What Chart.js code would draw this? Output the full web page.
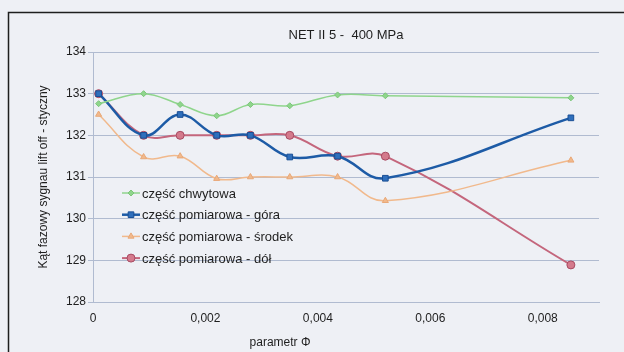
<!DOCTYPE html>
<html>
<head>
<meta charset="utf-8">
<script src="https://cdn.jsdelivr.net/npm/chart.js@4/dist/chart.umd.min.js"></script>
<style>
  html, body { margin: 0; padding: 0; background: #eef0f5; }
  #c { display: block; }
</style>
</head>
<body>
<canvas id="c" width="624" height="352"></canvas>
<script>
// ---- data ----
const chartTitle = "NET II 5 -  400 MPa";
const xAxisTitle = "parametr \u03A6";
const yAxisTitle = "Kąt fazowy sygnau lift off - styczny";
const xValues = [0.0001, 0.0009, 0.00155, 0.0022, 0.0028, 0.0035, 0.00435, 0.0052, 0.0085];
const seriesNames = ["część chwytowa", "część pomiarowa - góra", "część pomiarowa - środek", "część pomiarowa - dół"];
const chwytowa = [132.76, 133.0, 132.74, 132.47, 132.74, 132.71, 132.97, 132.95, 132.9];
const gora     = [133.0, 132.0, 132.5, 132.0, 132.0, 131.48, 131.5, 130.97, 132.42];
const srodek   = [132.5, 131.48, 131.5, 130.96, 131.0, 131.0, 131.0, 130.43, 131.4];
const dol      = [133.0, 132.0, 132.0, 132.0, 132.0, 132.0, 131.5, 131.5, 128.89];
const yTicks = [128, 129, 130, 131, 132, 133, 134];
const xTicks = [0, 0.002, 0.004, 0.006, 0.008];

const FONT = "'Liberation Sans', Arial, sans-serif";
const pts = arr => arr.map((v, i) => ({ x: xValues[i], y: v }));

const styles = [
  { color: '#8fd58c', width: 1.5, point: 'rectRot', r: 3, fill: '#8fd58c', border: '#7cc67a' },
  { color: '#1d5ba6', width: 2.5, point: 'rect', r: 4, fill: '#2f6fbc', border: '#1a4f95' },
  { color: '#f1b98c', width: 1.5, point: 'triangle', r: 3.5, fill: '#f1b98c', border: '#e9a877' },
  { color: '#c4667c', width: 2, point: 'circle', r: 4, fill: '#d47a8c', border: '#a84a62' }
];
const seriesData = [chwytowa, gora, srodek, dol];

const datasets = seriesData.map((d, i) => ({
  label: seriesNames[i],
  data: pts(d),
  borderColor: styles[i].color,
  borderWidth: styles[i].width,
  pointStyle: styles[i].point,
  pointRadius: styles[i].r,
  pointBackgroundColor: styles[i].fill,
  pointBorderColor: styles[i].border,
  pointBorderWidth: 1,
  tension: 0.4,
  fill: false
}));

const decor = {
  id: 'decor',
  beforeDraw(chart) {
    const ctx = chart.ctx;
    ctx.save();
    ctx.fillStyle = '#eef0f5';
    ctx.fillRect(0, 0, chart.width, chart.height);
    ctx.strokeStyle = '#1e1e1e';
    ctx.lineWidth = 1.5;
    ctx.beginPath();
    ctx.moveTo(8.5, chart.height);
    ctx.lineTo(8.5, 12.5);
    ctx.lineTo(chart.width, 12.5);
    ctx.stroke();
    ctx.restore();
  },
  afterDraw(chart) {
    const ctx = chart.ctx;
    const ca = chart.chartArea;
    ctx.save();
    ctx.fillStyle = '#1e1e1e';
    ctx.textBaseline = 'middle';
    ctx.textAlign = 'center';
    ctx.font = '13px ' + FONT;
    ctx.fillText(chartTitle, (ca.left + ca.right) / 2, 35);
    ctx.font = '12px ' + FONT;
    ctx.fillText(xAxisTitle, 280, 343);
    // legend
    ctx.textAlign = 'left';
    ctx.font = '13px ' + FONT;
    chart.data.datasets.forEach((ds, i) => {
      const y = 193 + i * 21.7;
      ctx.strokeStyle = ds.borderColor;
      ctx.lineWidth = ds.borderWidth;
      ctx.beginPath();
      ctx.moveTo(122, y);
      ctx.lineTo(140, y);
      ctx.stroke();
      ctx.fillStyle = ds.pointBackgroundColor;
      ctx.strokeStyle = ds.pointBorderColor;
      ctx.lineWidth = 1;
      Chart.helpers.drawPoint(ctx, { pointStyle: ds.pointStyle, radius: ds.pointRadius, rotation: 0, borderWidth: 1 }, 131, y);
      ctx.fillStyle = '#1e1e1e';
      ctx.fillText(ds.label, 142, y + 1);
    });
    ctx.restore();
  }
};

new Chart(document.getElementById('c'), {
  type: 'line',
  data: { datasets },
  plugins: [decor],
  options: {
    responsive: false,
    animation: false,
    layout: { padding: { top: 52, right: 25, left: 0, bottom: 0 } },
    plugins: { legend: { display: false }, title: { display: false }, tooltip: { enabled: false } },
    scales: {
      x: {
        type: 'linear',
        min: 0, max: 0.009,
        afterFit(s) { s.height = 50; },
        afterBuildTicks(s) { s.ticks = xTicks.map(v => ({ value: v })); },
        ticks: {
          includeBounds: false,
          padding: 9,
          color: '#1e1e1e',
          font: { family: FONT, size: 12 },
          maxRotation: 0,
          callback: v => v === 0 ? '0' : v.toFixed(3).replace('.', ',')
        },
        grid: { display: true, drawOnChartArea: false, drawTicks: false, color: '#b0bbd0' },
        border: { display: true, color: '#b0bbd0' }
      },
      y: {
        min: 128, max: 134,
        afterFit(s) { s.width = 93; },
        afterBuildTicks(s) { s.ticks = yTicks.map(v => ({ value: v })); },
        ticks: {
          padding: 2,
          color: '#1e1e1e',
          font: { family: FONT, size: 12 },
          callback: v => String(v)
        },
        grid: { color: '#b0bbd0', tickLength: 5, lineWidth: 1 },
        border: { display: true, color: '#b0bbd0' },
        title: {
          display: true,
          text: yAxisTitle,
          color: '#1e1e1e',
          font: { family: FONT, size: 12 },
          padding: { top: 36, bottom: 0 }
        }
      }
    }
  }
});
</script>
</body>
</html>
